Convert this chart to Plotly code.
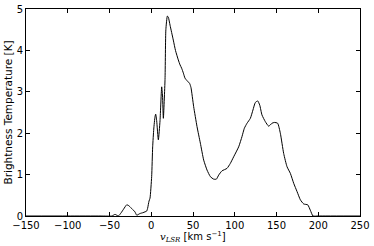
import plotly.graph_objects as go

velocity = [-150, -100, -60, -47, -43.4, -39.4, -36, -33, -29.4, -27, -25.4, -21.4, -19.5, -17.4,
            -13.5, -10, -7.5, -5.4, -4.3, -2.7, -1.5, 0.5, 1.7, 3, 4.5, 5.3, 6.5, 8.5, 10.5, 12.5,
            13.5, 14.5, 16.5, 17.5, 19.3, 20.5, 22.5, 26.4, 29, 32.4, 34.5, 36.4, 38.5, 40.4, 42.8,
            46, 47.6, 50.8, 54.8, 58.8, 62.8, 66.8, 70.8, 74.8, 78, 80.8, 84.7, 90.7, 94.7, 98.7,
            104.7, 108.7, 111.5, 114.7, 118.7, 121.8, 124.6, 127.5, 129.9, 132.6, 136.6, 140.6,
            144.6, 147.4, 151.4, 154.6, 158.6, 162.6, 166.6, 170.6, 174.6, 178.6, 182.6, 187.4,
            190.5, 193.7, 200, 250]
temperature = [0, 0, 0, 0, 0.04, 0, 0.08, 0.17, 0.27, 0.25, 0.22, 0.14, 0.1, 0.02,
               0.06, 0.08, 0.1, 0.12, 0.19, 0.36, 0.43, 0.95, 1.67, 2.1, 2.4, 2.46, 2.3, 1.84, 2.3, 3.12,
               2.9, 2.36, 3.3, 4.5, 4.83, 4.8, 4.61, 4.25, 4.0, 3.77, 3.65, 3.57, 3.45, 3.33, 3.27,
               3.2, 3.1, 2.64, 2.16, 1.76, 1.35, 1.11, 0.95, 0.89, 0.89, 0.99, 1.09, 1.15, 1.27, 1.43,
               1.67, 1.92, 2.12, 2.24, 2.36, 2.56, 2.74, 2.78, 2.68, 2.44, 2.28, 2.17,
               2.24, 2.26, 2.24, 2.0, 1.51, 1.19, 1.03, 0.79, 0.59, 0.39, 0.29, 0.27,
               0.14, 0, 0, 0]

x_ticks = [-150, -100, -50, 0, 50, 100, 150, 200, 250]
y_ticks = [0, 1, 2, 3, 4, 5]

fig = go.Figure()
fig.add_trace(go.Scatter(x=velocity, y=temperature, mode="lines",
                         line=dict(color="black", width=1, shape="spline", smoothing=0.5),
                         hoverinfo="skip"))

axis_common = dict(showline=True, linecolor="black", linewidth=1, mirror="ticks",
                   ticks="inside", ticklen=4, tickwidth=1, tickcolor="black",
                   showgrid=False, zeroline=False, automargin=False,
                   tickfont=dict(family="DejaVu Sans", size=10, color="black"))

fig.update_layout(
    width=374, height=246,
    margin=dict(l=26, r=14, t=9, b=30, autoexpand=False),
    paper_bgcolor="white", plot_bgcolor="white",
    showlegend=False,
    font=dict(family="DejaVu Sans", size=10, color="black"),
    xaxis=dict(range=[-150, 250], tickvals=x_ticks,
               ticktext=[str(t).replace("-", "−") for t in x_ticks],
               **axis_common),
    yaxis=dict(range=[0, 5], tickvals=y_ticks, **axis_common),
    annotations=[
        dict(text="<span style='font-family:DejaVu Serif'><i>v</i><sub><i>LSR</i></sub></span> [km s<sup>−1</sup>]",
             xref="paper", yref="paper", x=0.5, y=0, yshift=-12,
             xanchor="center", yanchor="top", showarrow=False,
             font=dict(family="DejaVu Sans", size=10, color="black")),
        dict(text="Brightness Temperature [K]", textangle=-90,
             xref="paper", yref="paper", x=0, y=0.5, xshift=-19,
             xanchor="center", yanchor="middle", showarrow=False,
             font=dict(family="DejaVu Sans", size=10.5, color="black")),
    ],
)

fig.write_html("out.html", config={"displayModeBar": False},
               post_script="document.body.style.margin='0';")
